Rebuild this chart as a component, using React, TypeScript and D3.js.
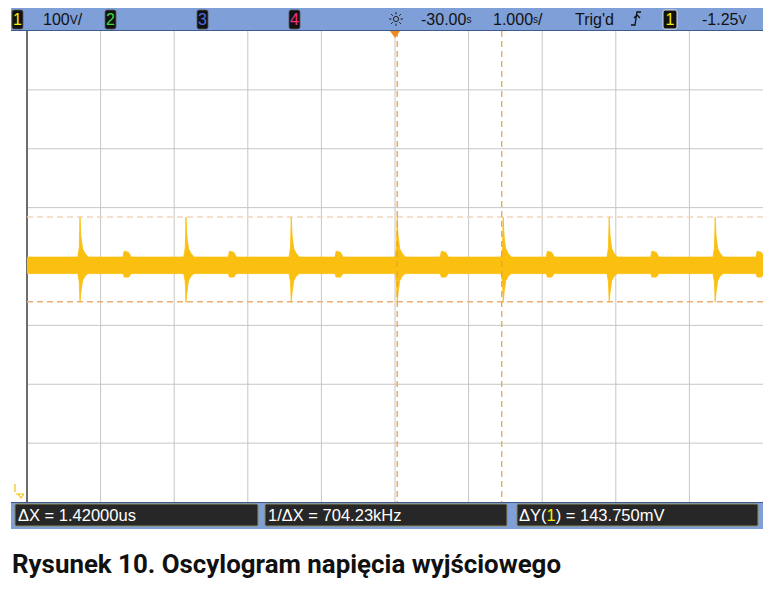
import React from "react";
import * as d3 from "d3";

// scope settings (from the status line)
const timePerDiv = 1.0; // us / div
const timeDelay = -0.03; // us, screen centre
const mvPerDiv = 100; // mV / div
const xDivs = 10;
const yDivs = 8;

// times of the switching spikes and of the small bumps between them (us)
const spikeTimes = [-4.31, -2.87, -1.44, 0.0, 1.44, 2.88, 4.32];
const bumpTimes = [-3.67, -2.24, -0.79, 0.64, 2.08, 3.5, 4.93];

// noise band of the trace (mV)
const bandHi = 16;
const bandLo = -12;

// envelope of one spike / bump: [time offset us, upper mV, lower mV]
const spikeShape: [number, number, number][] = [
  [-0.03, 16, -12],
  [-0.01, 32, -26],
  [0, 84, -61],
  [0.012, 52, -44],
  [0.035, 30, -24],
  [0.07, 22, -16],
  [0.11, 16, -12],
];
const bumpShape: [number, number, number][] = [
  [-0.055, 16, -12],
  [-0.04, 26, -18],
  [0.02, 24, -18],
  [0.055, 16, -12],
];

// cursors
const cursorX = [0, 1.42]; // us
const cursorY = [84, -59.75]; // mV

// readouts
const chanBoxes = [
  { label: "1", color: "#f4f000", x: 12 },
  { label: "2", color: "#3ddc3d", x: 105 },
  { label: "3", color: "#4a6fe0", x: 197 },
  { label: "4", color: "#f0308a", x: 289 },
];
const readouts = [
  { x: 15, w: 243, text: "\u0394X = 1.42000us" },
  { x: 265, w: 242, text: "1/\u0394X = 704.23kHz" },
  { x: 517, w: 241, text: "" },
];

const caption = "Rysunek 10. Oscylogram napi\u0119cia wyj\u015Bciowego";

const plot = { left: 27, right: 763, top: 31, bottom: 502 };
const barBlue = "#7f9fd8";
const traceColor = "#fbbf0f";
const cursorColor = "#f0a044";

export default function App() {
  const tMin = timeDelay - (xDivs / 2) * timePerDiv;
  const tMax = timeDelay + (xDivs / 2) * timePerDiv;
  const x = d3.scaleLinear().domain([tMin, tMax]).range([plot.left, plot.right]);
  const y = d3
    .scaleLinear()
    .domain([(-yDivs / 2) * mvPerDiv, (yDivs / 2) * mvPerDiv])
    .range([plot.bottom, plot.top]);

  // envelope of the trace built from the event times and shapes
  const events = [
    ...spikeTimes.map((t) => ({ t, shape: spikeShape })),
    ...bumpTimes.map((t) => ({ t, shape: bumpShape })),
  ].sort((a, b) => a.t - b.t);
  const env: [number, number, number][] = [[tMin, bandHi, bandLo]];
  events.forEach((e) => e.shape.forEach((p) => env.push([e.t + p[0], p[1], p[2]])));
  env.push([tMax, bandHi, bandLo]);

  const area = d3
    .area<[number, number, number]>()
    .x((d) => x(d[0]))
    .y0((d) => y(d[2]))
    .y1((d) => y(d[1]));

  const xGrid = d3.range(1, xDivs).map((i) => tMin + i * timePerDiv);
  const yGrid = d3.range(1, yDivs).map((i) => (-yDivs / 2 + i) * mvPerDiv);

  const font = "'Liberation Sans', Arial, sans-serif";
  const topY = 25;

  return (
    <div style={{ position: "absolute", left: 0, top: 0 }}>
      <svg width={773} height={591} style={{ display: "block", background: "#fff" }}>
        <defs>
          <clipPath id="plotclip">
            <rect x={plot.left} y={plot.top} width={plot.right - plot.left} height={plot.bottom - plot.top} />
          </clipPath>
        </defs>

        {/* grid */}
        {xGrid.map((t, i) => (
          <line key={"gx" + i} x1={x(t)} x2={x(t)} y1={plot.top} y2={plot.bottom} stroke="#c6c6c6" strokeWidth={1} />
        ))}
        {yGrid.map((v, i) => (
          <line key={"gy" + i} x1={plot.left} x2={plot.right} y1={y(v)} y2={y(v)} stroke="#c6c6c6" strokeWidth={1} />
        ))}
        <line x1={plot.left} x2={plot.left} y1={plot.top} y2={plot.bottom} stroke="#6c6c6c" strokeWidth={2} />

        {/* horizontal cursors */}
        <line x1={plot.left} x2={plot.right} y1={y(cursorY[0])} y2={y(cursorY[0])} stroke="#f2d6bd" strokeWidth={1.5} strokeDasharray="6,4" />
        <line x1={plot.left} x2={plot.right} y1={y(cursorY[1])} y2={y(cursorY[1])} stroke="#ecae78" strokeWidth={1.5} strokeDasharray="6,4" />

        {/* trace */}
        <path d={area(env) || ""} fill={traceColor} stroke={traceColor} strokeWidth={0.8} clipPath="url(#plotclip)" />

        {/* vertical cursors */}
        {cursorX.map((t, i) => (
          <line key={"cx" + i} x1={x(t)} x2={x(t)} y1={plot.top} y2={plot.bottom} stroke={cursorColor} strokeWidth={1.3} strokeDasharray="6,4" />
        ))}

        {/* top status bar */}
        <rect x={11} y={8} width={752} height={23} fill={barBlue} />
        <line x1={11} x2={763} y1={30.5} y2={30.5} stroke="#3f5b8c" strokeWidth={1} />
        {chanBoxes.map((c) => (
          <g key={"ch" + c.label}>
            <rect x={c.x} y={10} width={11} height={19} rx={2} fill="#111" stroke="#555" strokeWidth={0.8} />
            <text x={c.x + 5.5} y={topY} fill={c.color} fontFamily={font} fontSize={16} textAnchor="middle">
              {c.label}
            </text>
          </g>
        ))}
        <g fontFamily={font} fontSize={16} fill="#111">
          <text x={43} y={topY}>
            100<tspan fontSize={12} dy={-1}>V</tspan>
            <tspan dy={1}>/</tspan>
          </text>
          <text x={421} y={topY}>
            -30.00<tspan fontSize={10} dy={-2}>s</tspan>
          </text>
          <text x={493} y={topY}>
            1.000<tspan fontSize={10} dy={-2}>s</tspan>
            <tspan dy={2}>/</tspan>
          </text>
          <text x={575} y={topY}>Trig'd</text>
          <text x={702} y={topY}>
            -1.25<tspan fontSize={12} dy={-1}>V</tspan>
          </text>
        </g>
        {/* brightness icon */}
        <g transform="translate(396,19)" stroke="#222" strokeWidth={1}>
          <circle r={2.6} fill="none" />
          {d3.range(8).map((i) => {
            const a = (i * Math.PI) / 4;
            return <line key={"r" + i} x1={Math.cos(a) * 4.5} y1={Math.sin(a) * 4.5} x2={Math.cos(a) * 7} y2={Math.sin(a) * 7} />;
          })}
        </g>
        {/* rising edge symbol */}
        <path d="M631,25 L635,25 L637,12 L641,12 M634,18 L637,15 L640,18" fill="none" stroke="#111" strokeWidth={1.3} />
        <rect x={663} y={10} width={14} height={19} rx={2} fill="#111" stroke="#ddd" strokeWidth={1} />
        <text x={670} y={topY} fill="#f4f000" fontFamily={font} fontSize={16} textAnchor="middle">
          1
        </text>
        {/* trigger position marker */}
        <path d={`M${x(timeDelay) - 5},31 L${x(timeDelay) + 5},31 L${x(timeDelay)},38 Z`} fill="#f28a1e" />

        {/* ground marker */}
        <g stroke="#f4c20d" strokeWidth={1.2} fill="none">
          <line x1={15} x2={15} y1={484} y2={492} />
          <path d="M16,494 L24,494 M18,494 L21,498 L24,494" />
        </g>

        {/* bottom readout bar */}
        <rect x={11} y={502} width={752} height={27} fill={barBlue} />
        <line x1={11} x2={763} y1={502.5} y2={502.5} stroke="#3f5b8c" strokeWidth={1} />
        {readouts.map((r, i) => (
          <rect key={"rb" + i} x={r.x} y={504} width={r.w} height={22} rx={1.5} fill="#272727" stroke="#8c8a56" strokeWidth={1} />
        ))}
        <g fontFamily={font} fontSize={16.5} fill="#fff">
          {readouts.map((r, i) =>
            r.text ? (
              <text key={"rt" + i} x={r.x + 3} y={521}>
                {r.text}
              </text>
            ) : null
          )}
          <text x={519} y={521}>
            {"\u0394Y("}
            <tspan fill="#f4f000">1</tspan>
            {") = 143.750mV"}
          </text>
        </g>

        {/* caption */}
        <text x={12} y={573} fontFamily="Roboto, 'Noto Sans', sans-serif" fontWeight={700} fontSize={25} fill="#111" textLength={549} lengthAdjust="spacingAndGlyphs">
          {caption}
        </text>
      </svg>
    </div>
  );
}
